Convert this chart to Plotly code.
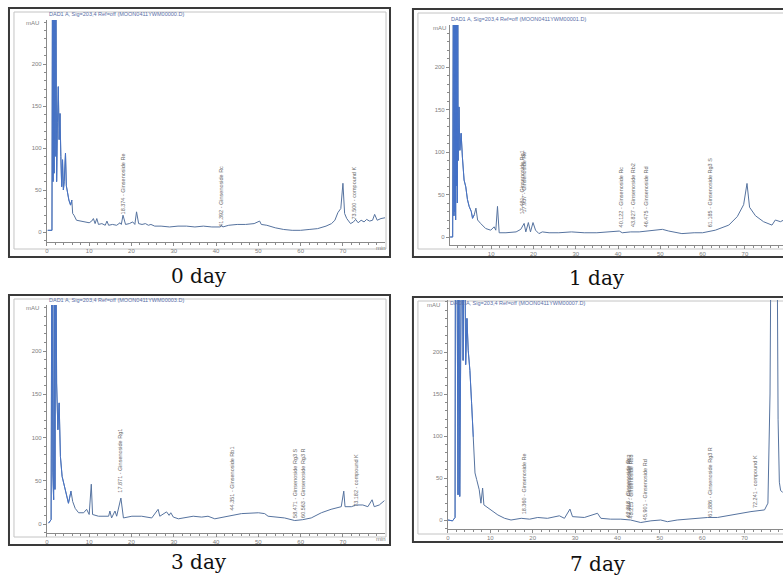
import plotly.graph_objects as go

W, H = 783, 583

# ---------------- data (retention time in min, signal in mAU) ----------------
T0 = [0.2, 1.2, 1.35, 1.45, 1.55, 1.7, 1.8, 1.95, 2.1, 2.3,
      2.5, 2.7, 2.9, 3.1, 3.3, 3.5, 3.7, 3.9, 4.1, 4.4,
      4.6, 4.9, 5.2, 5.6, 5.9, 6.1, 6.4, 7.0, 8.0, 9.0,
      10.0, 10.6, 11.0, 11.4, 11.8, 12.2, 13.0, 13.8, 14.2, 14.6,
      15.5, 16.5, 17.3, 17.6, 18.0, 18.6, 19.5, 20.3, 20.8, 21.2,
      21.7, 22.5, 23.3, 24.0, 24.6, 25.5, 27, 29, 31, 33,
      35, 37, 39, 41, 41.3, 41.6, 43, 45, 47, 49,
      50.3, 50.7, 52, 54, 56, 58, 60, 62, 64, 66,
      67.3, 68.1, 68.8, 69.5, 70.0, 70.4, 70.9, 71.8, 72.5, 73.0,
      73.6, 74.3, 75.0, 75.6, 76.3, 77.0, 77.5, 78.1, 79, 80]
V0 = [2, 2, 400, 60, 400, 70, 400, 90, 400, 60,
      130, 173, 110, 141, 90, 54, 86, 50, 60, 94,
      55, 45, 38, 32, 38, 22, 20, 14, 13, 12,
      11, 13, 16, 10, 16, 9, 10, 8, 13, 8,
      9, 8, 11, 9, 20, 9, 10, 12, 9, 24,
      10, 9, 10, 8, 9, 7, 7, 6, 7, 7,
      6, 7, 6, 6, 8, 6, 8, 9, 9, 10,
      13, 9, 8, 5, 3, 2, 2, 3, 4, 7,
      10, 14, 23, 28, 58, 22, 16, 10, 12, 15,
      11, 14, 12, 15, 13, 14, 21, 14, 16, 17]

T1 = [0.3, 0.9, 1.1, 1.2, 1.3, 1.4, 1.5, 1.6, 1.7, 1.8,
      1.9, 2.0, 2.1, 2.2, 2.4, 2.6, 2.9, 3.2, 3.6, 4.0,
      4.4, 4.8, 5.3, 5.6, 6.0, 6.4, 6.8, 7.5, 8.7, 9.9,
      10.7, 11.1, 11.5, 11.9, 13.5, 15.9, 17.0, 17.8, 18.2, 18.8,
      19.3, 19.9, 20.5, 21.3, 22.1, 23.7, 26, 29, 32, 35,
      38, 40.3, 41, 43, 45, 47, 49, 50.5, 52, 55.1,
      58, 60, 63, 66.2, 68.2, 69.7, 70.5, 71.1, 72.5, 74.4,
      76.4, 77.2, 78.4, 79.2]
V1 = [0, 0, 400, 25, 400, 30, 400, 20, 400, 60,
      400, 40, 280, 90, 153, 102, 122, 94, 67, 59,
      44, 36, 30, 22, 26, 34, 20, 16, 10, 8,
      12, 8, 36, 5, 5, 6, 9, 16, 6, 17,
      6, 17, 8, 4, 6, 5, 5, 6, 5, 5,
      6, 7, 5, 6, 6, 7, 8, 9, 7, 4,
      5, 5, 8, 14, 24, 38, 63, 35, 25, 18,
      14, 20, 18, 20]

T3 = [0.4, 1.0, 1.2, 1.4, 1.6, 1.75, 1.9, 2.1, 2.3, 2.6,
      2.9, 3.2, 3.6, 4.0, 4.7, 5.1, 5.7, 6.1, 6.7, 7.5,
      8.7, 9.4, 10.0, 10.5, 10.8, 12.2, 14.6, 14.9, 15.3, 16.1,
      16.5, 17.5, 18.1, 20.1, 22.4, 24.8, 26.3, 26.7, 28.3, 28.9,
      29.3, 29.9, 31.1, 34.6, 36.6, 38.1, 39.7, 43.7, 46.0, 50.0,
      51.5, 52.3, 56.2, 58.6, 60.5, 62.5, 64.9, 67.2, 69.6, 70.2,
      70.5, 72.0, 73.1, 74.7, 75.9, 76.9, 77.4, 78.6, 79.8]
V3 = [1, 5, 400, 60, 28, 400, 40, 400, 163, 109,
      140, 78, 55, 47, 32, 24, 38, 26, 18, 13,
      13, 17, 11, 46, 11, 9, 9, 15, 7, 15,
      9, 30, 7, 9, 9, 7, 17, 9, 14, 10,
      13, 8, 6, 9, 8, 9, 6, 10, 12, 13,
      12, 9, 7, 4, 5, 7, 13, 17, 20, 38,
      20, 20, 22, 22, 20, 28, 20, 22, 27]

T7 = [0.0, 1.1, 1.7, 1.8, 2.1, 2.4, 2.6, 2.8, 3.0, 3.3,
      3.6, 3.9, 4.2, 4.5, 4.8, 5.2, 5.6, 6.0, 6.4, 6.8,
      7.4, 7.8, 8.2, 8.5, 9.1, 10.3, 11.8, 13.4, 14.9, 17.3,
      19.3, 21.2, 23.5, 26.3, 27.5, 28.8, 29.4, 32.2, 35.3, 36.1,
      38.4, 40.8, 43.1, 45.5, 47.9, 50.2, 51.8, 54.1, 58.1, 61.3,
      63.6, 67.6, 71.5, 74.7, 75.5, 76.0, 76.3, 77.6, 77.9, 78.2,
      78.5, 79.0]
V7 = [0, -1, 3, 400, 400, 30, 400, 28, 400, 400,
      190, 400, 185, 240, 202, 178, 139, 99, 56, 48,
      36, 20, 38, 18, 16, 12, 6, 2, 0, 2,
      1, 3, 2, 5, 2, 13, 4, 3, 8, 2,
      1, 1, 0, -3, -1, 0, -2, 0, 2, 3,
      3, 7, 10, 12, 20, 150, 400, 400, 120, 45,
      35, 33]

# peak labels: (time, mAU at label foot, text)
PEAKS0 = [(18.0, 18, "18.374 - Ginsenoside Re"),
          (41.3, 4, "41.392 - Ginsenoside Rc"),
          (72.6, 13, "73.500 - compound K")]
PEAKS1 = [(17.2, 24, "17.481 - Ginsenoside Rg1"),
          (17.8, 26, "17.937 - Ginsenoside Re"),
          (40.6, 9, "40.122 - Ginsenoside Rc"),
          (43.7, 9, "43.827 - Ginsenoside Rb2"),
          (46.5, 9, "46.475 - Ginsenoside Rd"),
          (61.6, 9, "61.185 - Ginsenoside Rg3 S")]
PEAKS3 = [(17.3, 34, "17.871 - Ginsenoside Rg1"),
          (43.7, 13, "44.351 - Ginsenoside Rb1"),
          (58.6, 5, "58.471 - Ginsenoside Rg3 S"),
          (60.5, 5, "60.563 - Ginsenoside Rg3 R"),
          (73.1, 17, "73.182 - compound K")]
PEAKS7 = [(18.0, 4, "18.360 - Ginsenoside Re"),
          (42.3, 0, "42.318 - Ginsenoside Rc"),
          (42.8, 0, "42.884 - Ginsenoside Rb2"),
          (43.3, 0, "43.215 - Ginsenoside Rb3"),
          (46.5, -2, "45.901 - Ginsenoside Rd"),
          (61.8, 2, "61.886 - Ginsenoside Rg3 R"),
          (72.6, 12, "72.241 - compound K")]

CAPTIONS = ["0 day", "1 day", "3 day", "7 day"]
HEADERS = ["DAD1 A, Sig=203,4 Ref=off (MOON0411YWM00000.D)",
           "DAD1 A, Sig=203,4 Ref=off (MOON0411YWM00001.D)",
           "DAD1 A, Sig=203,4 Ref=off (MOON0411YWM00003.D)",
           "DAD1 A, Sig=203,4 Ref=off (MOON0411YWM00007.D)"]
X_TICKS = [0, 10, 20, 30, 40, 50, 60, 70]
Y_TICKS = [0, 50, 100, 150, 200]

TIMES = [T0, T1, T3, T7]
VALUES = [V0, V1, V3, V7]
PEAKS = [PEAKS0, PEAKS1, PEAKS3, PEAKS7]

# ---------------- layout geometry (pixels) ----------------
# x_zero_px, px_per_min, x_left_px, x_right_px, y_zero_px, px_per_mAU, y_bottom_px, y_top_px
GEOM = [
    (45, 4.24, 45, 384, 232, 0.84, 242, 20),
    (448, 4.24, 449, 783, 237, 0.85, 245, 25),
    (45, 4.24, 45, 384, 524, 0.865, 533, 305),
    (447, 4.25, 447, 783, 520, 0.84, 529, 300),
]
FRAMES = [(7, 8, 389, 257), (412, 9, 792, 257), (7, 295, 389, 545), (412, 297, 792, 542)]
CAP_POS = [(198, 276), (597, 278), (198, 562), (598, 564)]
HEAD_POS = [(45, 14), (448, 19), (45, 300), (447, 303)]
MAU_POS = [(31, 23), (439, 28), (31, 308), (433, 305)]

LINE_COLOR = "#56739f"
SPIKE_COLOR = "#4472c8"
AXIS_COLOR = "#8a8a8a"
TICK_FONT = dict(family="Liberation Sans, Arial", size=6, color="#808080")

fig = go.Figure()
annotations = []
shapes = []
layout_axes = {}

for i in range(4):
    n = "" if i == 0 else str(i + 1)
    x0, ppm, xl, xr, y0, ppu, yb, yt = GEOM[i]
    xrange_ = [(xl - x0) / ppm, (xr - x0) / ppm]
    yrange_ = [(y0 - yb) / ppu, (y0 - yt) / ppu]

    t, v = TIMES[i], VALUES[i]
    k = next(j for j, tt in enumerate(t) if tt > 6)
    fig.add_trace(go.Scatter(x=t, y=v, mode="lines", xaxis="x" + n, yaxis="y" + n,
                             line=dict(color=LINE_COLOR, width=1), showlegend=False,
                             hoverinfo="skip"))
    fig.add_trace(go.Scatter(x=t[:k], y=v[:k], mode="lines", xaxis="x" + n, yaxis="y" + n,
                             line=dict(color=SPIKE_COLOR, width=0.9), showlegend=False,
                             hoverinfo="skip"))

    layout_axes["xaxis" + n] = dict(
        domain=[xl / W, min(xr / W, 1.0)], range=xrange_, anchor="y" + n,
        showgrid=False, zeroline=False, showline=True, linecolor=AXIS_COLOR, linewidth=1,
        ticks="outside", ticklen=3, tickcolor=AXIS_COLOR, tickwidth=1,
        tickvals=X_TICKS, tickfont=TICK_FONT,
        minor=dict(dtick=2, tick0=0, ticks="outside", ticklen=2, tickcolor=AXIS_COLOR, showgrid=False),
    )
    layout_axes["yaxis" + n] = dict(
        domain=[1 - yb / H, 1 - yt / H], range=yrange_, anchor="x" + n,
        showgrid=False, zeroline=False, showline=True, linecolor=AXIS_COLOR, linewidth=1,
        ticks="outside", ticklen=3, tickcolor=AXIS_COLOR, tickwidth=1,
        tickvals=Y_TICKS, tickfont=TICK_FONT,
        minor=dict(dtick=10, tick0=0, ticks="outside", ticklen=2, tickcolor=AXIS_COLOR, showgrid=False),
    )

    if xr < 700:
        annotations.append(dict(x=(xr - 4) / W, y=1 - (yb + 6) / H, xref="paper", yref="paper",
                                text="min", showarrow=False, font=TICK_FONT,
                                xanchor="center", yanchor="middle"))
    mx, my = MAU_POS[i]
    annotations.append(dict(x=mx / W, y=1 - my / H, xref="paper", yref="paper", text="mAU",
                            showarrow=False, font=TICK_FONT, xanchor="center", yanchor="middle"))
    hx, hy = HEAD_POS[i]
    annotations.append(dict(x=hx / W, y=1 - hy / H, xref="paper", yref="paper", text=HEADERS[i],
                            showarrow=False, xanchor="left", yanchor="middle",
                            font=dict(family="Liberation Sans, Arial", size=5.5, color="#5a6fa8")))
    cx, cy = CAP_POS[i]
    annotations.append(dict(x=cx / W, y=1 - cy / H, xref="paper", yref="paper", text=CAPTIONS[i],
                            showarrow=False, xanchor="center", yanchor="middle",
                            font=dict(family="DejaVu Serif", size=20, color="#111111")))
    for (pt, pv, txt) in PEAKS[i]:
        annotations.append(dict(x=pt, y=pv, xref="x" + n, yref="y" + n, text=txt,
                                textangle=-90, showarrow=False, xanchor="center", yanchor="bottom",
                                font=dict(family="Liberation Sans, Arial", size=5.5, color="#6a6a6a")))
    fx0, fy0, fx1, fy1 = FRAMES[i]
    shapes.append(dict(type="rect", xref="paper", yref="paper",
                       x0=fx0 / W, x1=fx1 / W, y0=1 - fy0 / H, y1=1 - fy1 / H,
                       line=dict(color="#3a3a3a", width=2), layer="above"))
    shapes.append(dict(type="rect", xref="paper", yref="paper",
                       x0=(fx0 + 5) / W, x1=(fx1 - 4) / W, y0=1 - (fy0 + 4) / H, y1=1 - (fy1 - 8) / H,
                       line=dict(color="#c4c4c4", width=1), layer="below"))

fig.update_layout(
    width=W, height=H,
    margin=dict(l=0, r=0, t=0, b=0),
    paper_bgcolor="white", plot_bgcolor="white",
    annotations=annotations, shapes=shapes,
    **layout_axes,
)

fig.write_html("out.html", config={"displayModeBar": False},
               post_script="document.body.style.margin='0';document.body.style.overflow='hidden';")
